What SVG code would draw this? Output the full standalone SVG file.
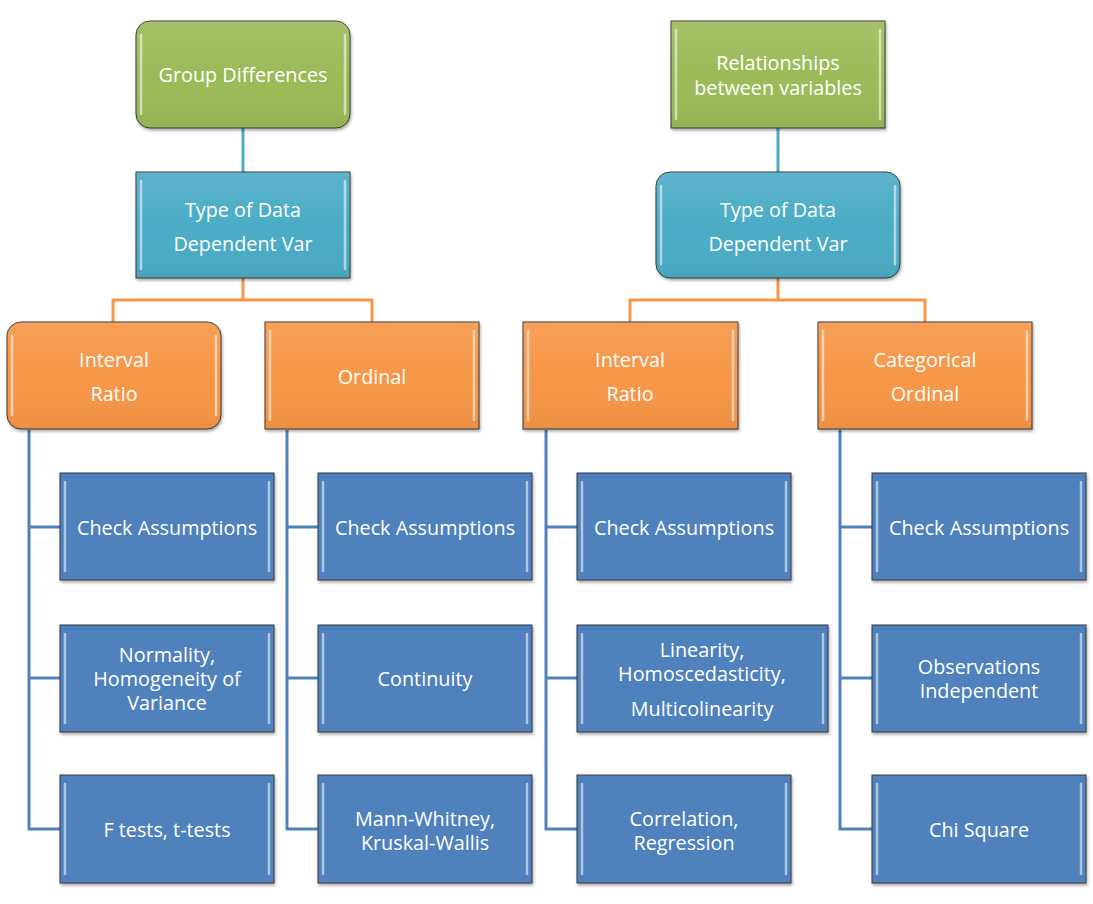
<svg xmlns="http://www.w3.org/2000/svg" width="1093" height="904" viewBox="0 0 1093 904">
<defs>
<style>
text{font-family:"Open Sans","Liberation Sans",sans-serif;font-size:19.8px;fill:#fff;text-anchor:middle}
.box{stroke:#3a3a3a;stroke-width:1;filter:url(#sh)}
.g{fill:#9BBB59}.t{fill:#4BACC6}.o{fill:#F79646}.b{fill:#4F81BD}
.hl{fill:none;stroke:#fff;stroke-width:2.5;stroke-opacity:0.55;stroke-linecap:round}
.ov{fill:url(#gloss)}
.cg{stroke:#4BACC6;stroke-width:3;fill:none}
.co{stroke:#F79646;stroke-width:3;fill:none}
.cb{stroke:#4F81BD;stroke-width:3;fill:none}
</style>
<filter id="sh" x="-10%" y="-10%" width="120%" height="130%">
<feDropShadow dx="1" dy="2" stdDeviation="1.5" flood-color="#000" flood-opacity="0.35"/>
</filter>
<linearGradient id="gloss" x1="0" y1="0" x2="0" y2="1">
<stop offset="0" stop-color="#fff" stop-opacity="0.10"/>
<stop offset="0.5" stop-color="#fff" stop-opacity="0"/>
<stop offset="1" stop-color="#000" stop-opacity="0.05"/>
</linearGradient>
</defs>

<g id="connectors">
<path class="cg" d="M243 128V172"/>
<path class="cg" d="M778 128V172"/>
<path class="co" d="M243 278V300M113 322V300H372V322"/>
<path class="co" d="M778 278V300M630 322V300H925V322"/>
<path class="cb" d="M29 430V829H60M29 527H60M29 678H60"/>
<path class="cb" d="M287 430V829H318M287 527H318M287 678H318"/>
<path class="cb" d="M546 430V829H577M546 527H577M546 678H577"/>
<path class="cb" d="M840 430V829H872M840 527H872M840 678H872"/>
</g>

<g id="n-group-diff">
<rect class="box g" x="136" y="21" width="214" height="107" rx="14"/>
<rect class="ov" x="136" y="21" width="214" height="107" rx="14"/>
<path class="hl" d="M141 35V114M345 35V114"/>
<text x="243" y="82">Group Differences</text>
</g>
<g id="n-relationships">
<rect class="box g" x="671" y="21" width="214" height="107"/>
<rect class="ov" x="671" y="21" width="214" height="107"/>
<path class="hl" d="M676 30V119M880 30V119"/>
<text x="778" y="70">Relationships</text>
<text x="778" y="95">between variables</text>
</g>
<g id="n-type-left">
<rect class="box t" x="136" y="172" width="214" height="106"/>
<rect class="ov" x="136" y="172" width="214" height="106"/>
<path class="hl" d="M141 181V269M345 181V269"/>
<text x="243" y="217">Type of Data</text>
<text x="243" y="251">Dependent Var</text>
</g>
<g id="n-type-right">
<rect class="box t" x="656" y="172" width="244" height="106" rx="14"/>
<rect class="ov" x="656" y="172" width="244" height="106" rx="14"/>
<path class="hl" d="M661 186V264M895 186V264"/>
<text x="778" y="217">Type of Data</text>
<text x="778" y="251">Dependent Var</text>
</g>

<g id="n-interval-left">
<rect class="box o" x="7" y="322" width="214" height="107" rx="14"/>
<rect class="ov" x="7" y="322" width="214" height="107" rx="14"/>
<path class="hl" d="M12 336V415M216 336V415"/>
<text x="114" y="367">Interval</text>
<text x="114" y="401">Ratio</text>
</g>
<g id="n-ordinal">
<rect class="box o" x="265" y="322" width="214" height="107"/>
<rect class="ov" x="265" y="322" width="214" height="107"/>
<path class="hl" d="M270 331V420M474 331V420"/>
<text x="372" y="384">Ordinal</text>
</g>
<g id="n-interval-right">
<rect class="box o" x="523" y="322" width="215" height="107"/>
<rect class="ov" x="523" y="322" width="215" height="107"/>
<path class="hl" d="M528 331V420M733 331V420"/>
<text x="630" y="367">Interval</text>
<text x="630" y="401">Ratio</text>
</g>
<g id="n-categorical">
<rect class="box o" x="818" y="322" width="214" height="107"/>
<rect class="ov" x="818" y="322" width="214" height="107"/>
<path class="hl" d="M823 331V420M1027 331V420"/>
<text x="925" y="367">Categorical</text>
<text x="925" y="401">Ordinal</text>
</g>

<g id="n-c1-check">
<rect class="box b" x="60" y="473" width="214" height="107"/>
<path class="hl" d="M65 482V571M269 482V571"/>
<text x="167" y="535">Check Assumptions</text>
</g>
<g id="n-c1-normality">
<rect class="box b" x="60" y="625" width="214" height="107"/>
<path class="hl" d="M65 634V723M269 634V723"/>
<text x="167" y="662">Normality,</text>
<text x="167" y="686">Homogeneity of</text>
<text x="167" y="710">Variance</text>
</g>
<g id="n-c1-ftests">
<rect class="box b" x="60" y="775" width="214" height="108"/>
<path class="hl" d="M65 784V874M269 784V874"/>
<text x="167" y="837">F tests, t-tests</text>
</g>

<g id="n-c2-check">
<rect class="box b" x="318" y="473" width="214" height="107"/>
<path class="hl" d="M323 482V571M527 482V571"/>
<text x="425" y="535">Check Assumptions</text>
</g>
<g id="n-c2-continuity">
<rect class="box b" x="318" y="625" width="214" height="107"/>
<path class="hl" d="M323 634V723M527 634V723"/>
<text x="425" y="686">Continuity</text>
</g>
<g id="n-c2-mann">
<rect class="box b" x="318" y="775" width="214" height="108"/>
<path class="hl" d="M323 784V874M527 784V874"/>
<text x="425" y="826">Mann-Whitney,</text>
<text x="425" y="850">Kruskal-Wallis</text>
</g>

<g id="n-c3-check">
<rect class="box b" x="577" y="473" width="214" height="107"/>
<path class="hl" d="M582 482V571M786 482V571"/>
<text x="684" y="535">Check Assumptions</text>
</g>
<g id="n-c3-linearity">
<rect class="box b" x="577" y="625" width="251" height="107"/>
<path class="hl" d="M582 634V723M823 634V723"/>
<text x="702" y="657">Linearity,</text>
<text x="702" y="681">Homoscedasticity,</text>
<text x="702" y="716">Multicolinearity</text>
</g>
<g id="n-c3-correlation">
<rect class="box b" x="577" y="775" width="214" height="108"/>
<path class="hl" d="M582 784V874M786 784V874"/>
<text x="684" y="826">Correlation,</text>
<text x="684" y="850">Regression</text>
</g>

<g id="n-c4-check">
<rect class="box b" x="872" y="473" width="214" height="107"/>
<path class="hl" d="M877 482V571M1081 482V571"/>
<text x="979" y="535">Check Assumptions</text>
</g>
<g id="n-c4-observations">
<rect class="box b" x="872" y="625" width="214" height="107"/>
<path class="hl" d="M877 634V723M1081 634V723"/>
<text x="979" y="674">Observations</text>
<text x="979" y="698">Independent</text>
</g>
<g id="n-c4-chi">
<rect class="box b" x="872" y="775" width="214" height="108"/>
<path class="hl" d="M877 784V874M1081 784V874"/>
<text x="979" y="837">Chi Square</text>
</g>
</svg>
